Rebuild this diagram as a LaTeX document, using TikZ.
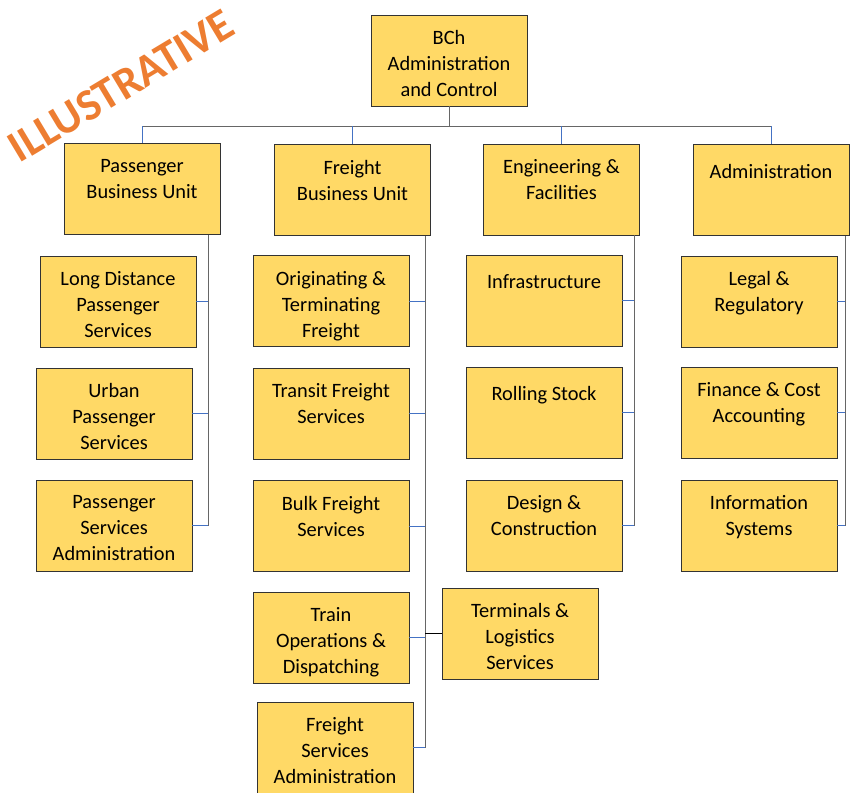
\documentclass[tikz,border=0pt]{standalone}
\usepackage{fontspec}
\setmainfont{Carlito}
\usetikzlibrary{positioning}

\definecolor{boxfill}{HTML}{FFD966}
\definecolor{linkblue}{HTML}{4472C4}
\definecolor{stamporange}{HTML}{ED7D31}

\begin{document}
\begin{tikzpicture}[x=0.025cm, y=-0.025cm,
  unit/.style={draw=black!80, fill=boxfill, minimum width=3.9cm, minimum height=2.275cm, inner sep=0pt},
  lbl/.style={font=\fontsize{14.5}{18.5}\selectfont, align=center, inner sep=0pt, execute at begin node=\strut},
  trunk/.style={draw=black!60, line width=0.7pt},
  stub/.style={draw=linkblue, line width=0.6pt},
  stamp/.style={font=\fontsize{32}{32}\selectfont\bfseries, text=stamporange, rotate=31, inner sep=0pt}]

\useasboundingbox (0,0) rectangle (850,792);

\node[stamp] (illus) at (121,86) {ILLUSTRATIVE};

% top
\node[unit] (top) at (449,60.5) {};
\node[lbl, below=0.39cm of top.north] (top-t) {BCh\\Administration\\and Control};

% second level
\node[unit] (pbu) at (142,189) {};
\node[unit] (fbu) at (352.5,190) {};
\node[unit] (eng) at (561.5,189.5) {};
\node[unit] (adm) at (771,190) {};
\node[lbl, below=0.39cm of pbu.north] (pbu-t) {Passenger\\Business Unit};
\node[lbl, below=0.39cm of fbu.north] (fbu-t) {Freight\\Business Unit};
\node[lbl, below=0.39cm of eng.north] (eng-t) {Engineering \&\\Facilities};
\node[lbl, below=0.39cm of adm.north] (adm-t) {Administration};

% passenger
\node[unit] (ld) at (118,301.5) {};
\node[unit] (urb) at (114,413.5) {};
\node[unit] (psa) at (114,525.5) {};
\node[lbl, below=0.39cm of ld.north] (ld-t) {Long Distance\\Passenger\\Services};
\node[lbl, below=0.39cm of urb.north] (urb-t) {Urban\\Passenger\\Services};
\node[lbl, below=0.39cm of psa.north] (psa-t) {Passenger\\Services\\Administration};

% freight
\node[unit] (otf) at (331,301) {};
\node[unit] (tfs) at (331,413.5) {};
\node[unit] (bfs) at (331,526) {};
\node[unit] (tod) at (331,637.5) {};
\node[unit] (fsa) at (335,747.5) {};
\node[unit] (tls) at (520,633.5) {};
\node[lbl, below=0.39cm of otf.north] (otf-t) {Originating \&\\Terminating\\Freight};
\node[lbl, below=0.39cm of tfs.north] (tfs-t) {Transit Freight\\Services};
\node[lbl, below=0.39cm of bfs.north] (bfs-t) {Bulk Freight\\Services};
\node[lbl, below=0.39cm of tod.north] (tod-t) {Train\\Operations \&\\Dispatching};
\node[lbl, below=0.39cm of fsa.north] (fsa-t) {Freight\\Services\\Administration};
\node[lbl, below=0.39cm of tls.north] (tls-t) {Terminals \&\\Logistics\\Services};

% engineering
\node[unit] (inf) at (544,300.5) {};
\node[unit] (rst) at (544,412.5) {};
\node[unit] (dsc) at (544,525.5) {};
\node[lbl, below=0.39cm of inf.north] (inf-t) {Infrastructure};
\node[lbl, below=0.39cm of rst.north] (rst-t) {Rolling Stock};
\node[lbl, below=0.39cm of dsc.north] (dsc-t) {Design \&\\Construction};

% administration
\node[unit] (leg) at (759,301.5) {};
\node[unit] (fca) at (759,412.5) {};
\node[unit] (isy) at (759,525.5) {};
\node[lbl, below=0.39cm of leg.north] (leg-t) {Legal \&\\Regulatory};
\node[lbl, below=0.39cm of fca.north] (fca-t) {Finance \& Cost\\Accounting};
\node[lbl, below=0.39cm of isy.north] (isy-t) {Information\\Systems};

% bus
\coordinate (bus) at (449,126);
\draw[trunk] (top.south) -- (bus);
\draw[trunk] (pbu.north |- bus) -- (adm.north |- bus);
\draw[stub] (pbu.north) -- (pbu.north |- bus);
\draw[stub] (fbu.north) -- (fbu.north |- bus);
\draw[stub] (eng.north) -- (eng.north |- bus);
\draw[stub] (adm.north) -- (adm.north |- bus);

% trunks
\coordinate (ptrunk) at (208,0);
\coordinate (ftrunk) at (425,0);
\coordinate (etrunk) at (634,0);
\coordinate (atrunk) at (845,0);

\draw[trunk] (pbu.south -| ptrunk) -- (psa.east -| ptrunk);
\draw[trunk] (fbu.south -| ftrunk) -- (fsa.east -| ftrunk);
\draw[trunk] (eng.south -| etrunk) -- (dsc.east -| etrunk);
\draw[trunk] (adm.south -| atrunk) -- (isy.east -| atrunk);

\draw[stub] (ld.east) -- (ld.east -| ptrunk);
\draw[stub] (urb.east) -- (urb.east -| ptrunk);
\draw[stub] (psa.east) -- (psa.east -| ptrunk);

\draw[stub] (otf.east) -- (otf.east -| ftrunk);
\draw[stub] (tfs.east) -- (tfs.east -| ftrunk);
\draw[stub] (bfs.east) -- (bfs.east -| ftrunk);
\draw[stub] (tod.east) -- (tod.east -| ftrunk);
\draw[stub] (fsa.east) -- (fsa.east -| ftrunk);
\draw[black, line width=0.6pt] (tls.west) -- (tls.west -| ftrunk);

\draw[stub] (inf.east) -- (inf.east -| etrunk);
\draw[stub] (rst.east) -- (rst.east -| etrunk);
\draw[stub] (dsc.east) -- (dsc.east -| etrunk);

\draw[stub] (leg.east) -- (leg.east -| atrunk);
\draw[stub] (fca.east) -- (fca.east -| atrunk);
\draw[stub] (isy.east) -- (isy.east -| atrunk);

\end{tikzpicture}
\end{document}
